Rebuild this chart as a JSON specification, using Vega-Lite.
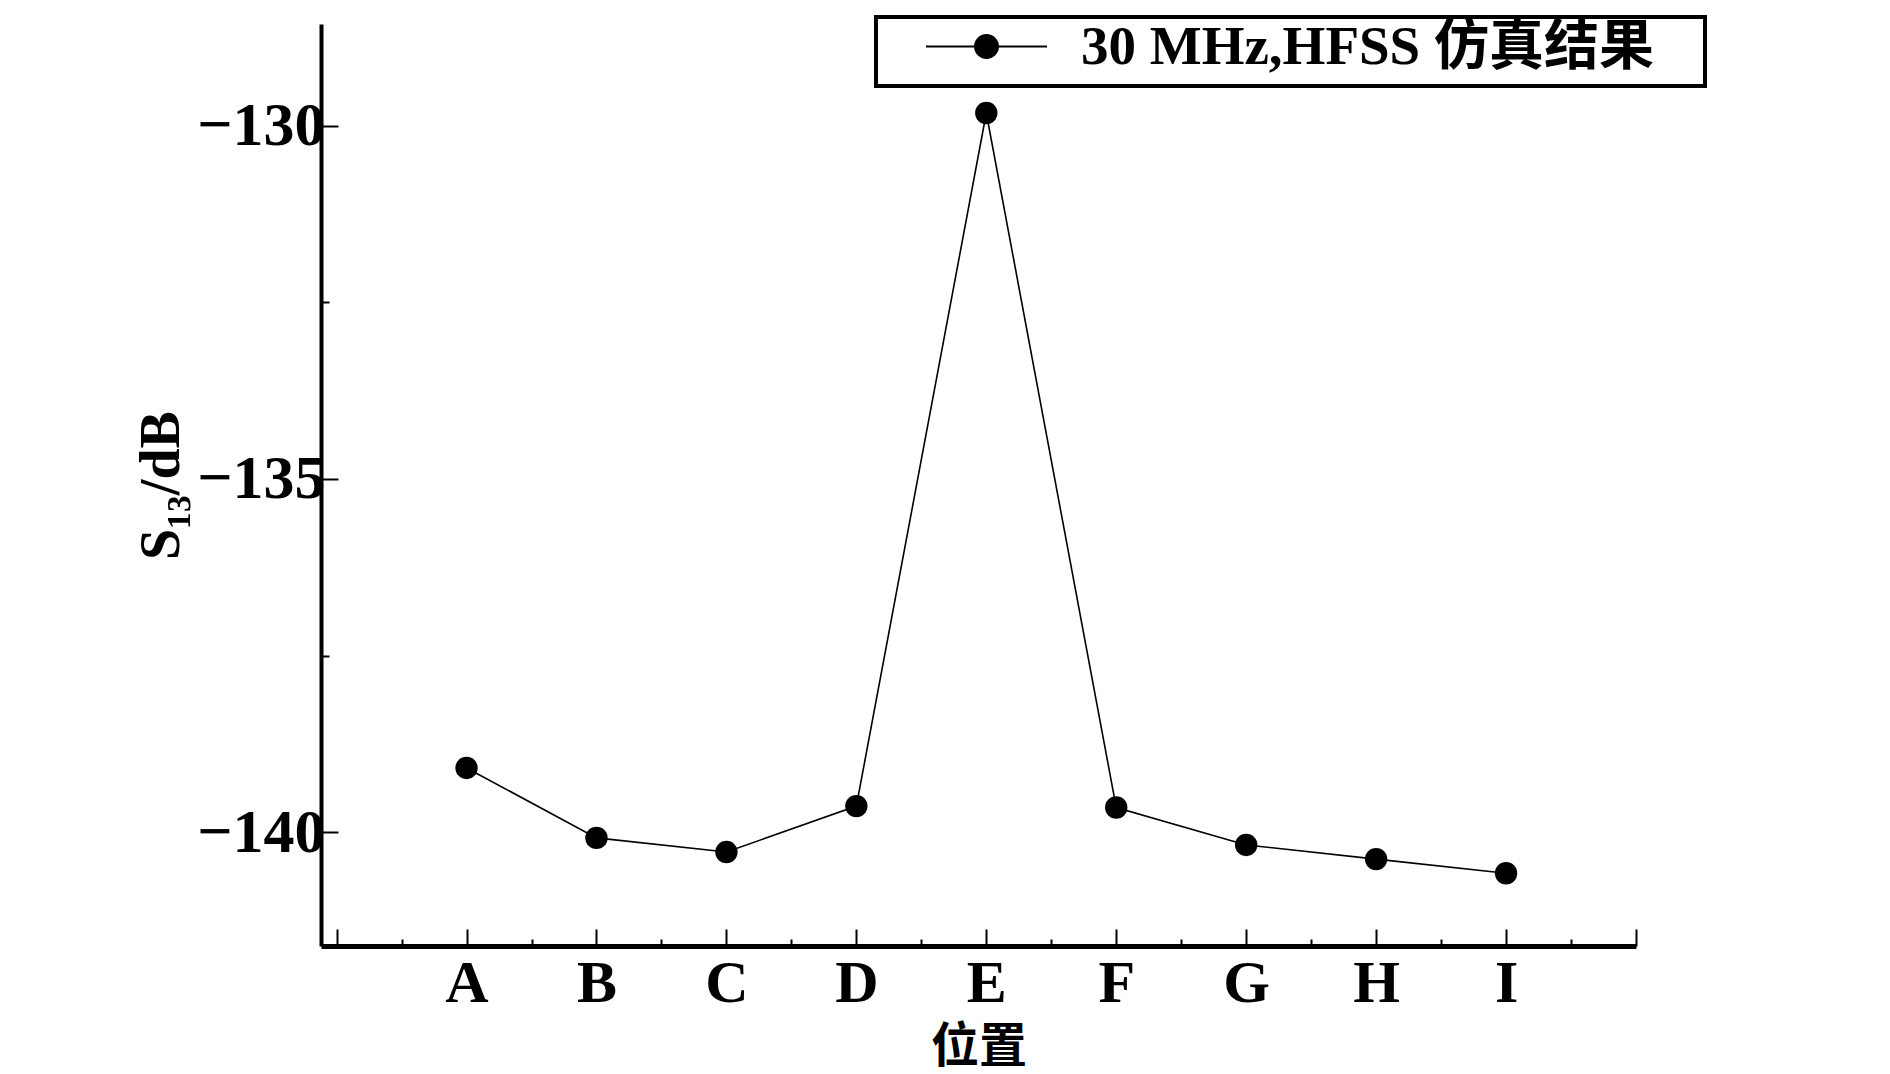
{
  "$schema": "https://vega.github.io/schema/vega-lite/v6.json",
  "width": 1315,
  "height": 922,
  "autosize": {"type": "none"},
  "padding": {"left": 321, "top": 24, "right": 254, "bottom": 128},
  "background": "white",
  "config": {"view": {"stroke": null}, "font": "Liberation Serif"},
  "data": {
    "values": [
      {"pos": "A", "idx": 1, "s13": -139.09, "series": "30 MHz,HFSS 仿真结果"},
      {"pos": "B", "idx": 2, "s13": -140.08, "series": "30 MHz,HFSS 仿真结果"},
      {"pos": "C", "idx": 3, "s13": -140.28, "series": "30 MHz,HFSS 仿真结果"},
      {"pos": "D", "idx": 4, "s13": -139.63, "series": "30 MHz,HFSS 仿真结果"},
      {"pos": "E", "idx": 5, "s13": -129.82, "series": "30 MHz,HFSS 仿真结果"},
      {"pos": "F", "idx": 6, "s13": -139.65, "series": "30 MHz,HFSS 仿真结果"},
      {"pos": "G", "idx": 7, "s13": -140.18, "series": "30 MHz,HFSS 仿真结果"},
      {"pos": "H", "idx": 8, "s13": -140.38, "series": "30 MHz,HFSS 仿真结果"},
      {"pos": "I", "idx": 9, "s13": -140.58, "series": "30 MHz,HFSS 仿真结果"}
    ]
  },
  "mark": {
    "type": "line",
    "strokeWidth": 1.6,
    "point": {"filled": true, "size": 500, "color": "black", "opacity": 1}
  },
  "encoding": {
    "x": {
      "field": "idx",
      "type": "quantitative",
      "scale": {"domain": [-0.12, 10], "nice": false, "zero": false},
      "axis": {
        "title": "位置",
        "titleFont": "Noto Sans CJK SC",
        "titleFontSize": 48,
        "titleFontWeight": "bold",
        "titleColor": "black",
        "titlePadding": 0,
        "values": [0, 0.5, 1, 1.5, 2, 2.5, 3, 3.5, 4, 4.5, 5, 5.5, 6, 6.5, 7, 7.5, 8, 8.5, 9, 9.5, 10],
        "labelExpr": "['', 'A', 'B', 'C', 'D', 'E', 'F', 'G', 'H', 'I', ''][datum.value] || ''",
        "labelFont": "Liberation Serif",
        "labelFontSize": 60,
        "labelFontWeight": "bold",
        "labelColor": "black",
        "labelPadding": 25,
        "labelFlush": false,
        "labelOverlap": false,
        "labelBound": false,
        "grid": false,
        "domainColor": "black",
        "domainWidth": 5,
        "tickColor": "black",
        "tickWidth": 2,
        "tickSize": {"condition": {"test": "datum.value % 1 !== 0", "value": -7}, "value": -17}
      }
    },
    "y": {
      "field": "s13",
      "type": "quantitative",
      "scale": {"domain": [-141.61, -128.56], "nice": false, "zero": false},
      "axis": {
        "title": "S₁₃/dB",
        "titleFont": "Liberation Serif",
        "titleFontSize": 56,
        "titleFontWeight": "bold",
        "titleColor": "black",
        "titlePadding": 6,
        "values": [-140, -137.5, -135, -132.5, -130],
        "labelExpr": "datum.value % 5 === 0 ? datum.label : ''",
        "labelFont": "Liberation Serif",
        "labelFontSize": 62,
        "labelFontWeight": "bold",
        "labelColor": "black",
        "labelPadding": 13,
        "labelFlush": false,
        "labelOverlap": false,
        "labelBound": false,
        "grid": false,
        "domainColor": "black",
        "domainWidth": 4,
        "tickColor": "black",
        "tickWidth": 2,
        "tickSize": {"condition": {"test": "datum.value % 5 !== 0", "value": -8}, "value": -17}
      }
    },
    "color": {
      "field": "series",
      "type": "nominal",
      "scale": {"range": ["black"]},
      "legend": {
        "orient": "none",
        "legendX": 555,
        "legendY": -7,
        "title": null,
        "symbolType": "M-1,0H1M-0.19,0A0.19,0.19,0,1,1,0.19,0A0.19,0.19,0,1,1,-0.19,0Z",
        "symbolSize": 14641,
        "clipHeight": 37,
        "symbolOffset": 38,
        "labelOffset": 33,
        "padding": 11,
        "strokeColor": "black",
        "labelFont": "Liberation Serif, Noto Sans CJK SC",
        "labelFontSize": 55,
        "labelFontWeight": "bold",
        "labelColor": "black",
        "labelLimit": 0,
        "symbolStrokeWidth": 2,
        "symbolFillColor": "black",
        "symbolStrokeColor": "black",
        "labelExpr": "datum.label + '\u2800'",
        "encode": {
          "legend": {"update": {"strokeWidth": {"value": 4}}},
          "symbols": {"update": {"fill": {"value": "black"}, "stroke": {"value": "black"}, "strokeWidth": {"value": 2}, "opacity": {"value": 1}}}
        }
      }
    }
  }
}
